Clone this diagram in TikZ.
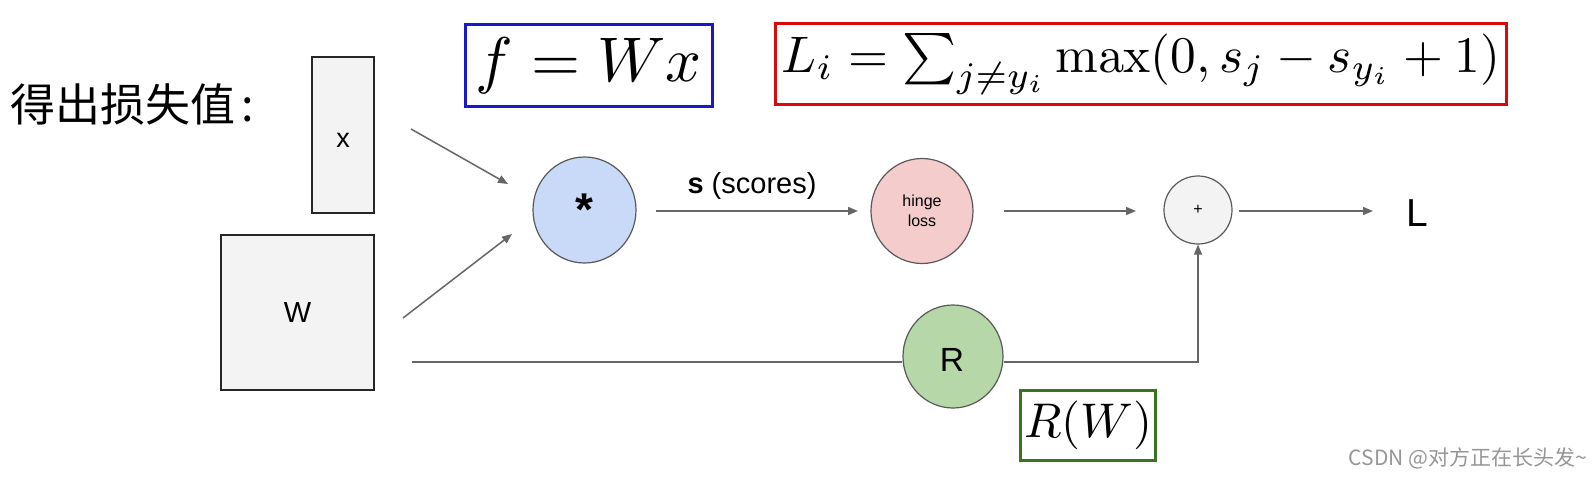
\documentclass[tikz,border=0pt]{standalone}
\usepackage[no-math]{fontspec}
\setmainfont{Liberation Sans}
\newfontfamily\cjk{Noto Sans CJK SC}
\usepackage{graphicx}
\usetikzlibrary{shapes.geometric,arrows.meta}
\definecolor{boxfill}{RGB}{243,243,243}
\definecolor{opblue}{RGB}{201,218,248}
\definecolor{oppink}{RGB}{244,204,204}
\definecolor{opgreen}{RGB}{182,215,168}
\definecolor{fblue}{RGB}{25,25,200}
\definecolor{fred}{RGB}{218,10,10}
\definecolor{fgreen}{RGB}{56,118,29}
\definecolor{conncol}{RGB}{102,102,102}
\definecolor{wmcol}{RGB}{150,150,150}
\begin{document}
\begin{tikzpicture}[x=0.5pt,y=-0.5pt,
  blk/.style={draw=black!85, line width=0.75pt, fill=boxfill, inner sep=0},
  op/.style={ellipse, draw=black!65, line width=0.6pt, inner sep=0},
  conn/.style={draw=conncol, line width=0.75pt},
  arr/.style={conn, -{Triangle[length=5pt,width=4pt]}},
  fbox/.style={line width=1.5pt, fill=white, inner sep=0}]
\fill[white] (0,0) rectangle (1592,477);
\useasboundingbox (0,0) rectangle (1592,477);

% title
\node[anchor=west, inner sep=0, font=\cjk\fontsize{22.5}{27}\selectfont] (title) at (10,104) {得出损失值\hspace{3pt}:};

% input boxes
\node[blk, minimum width=31pt, minimum height=78pt] (xb) at (343,135) {};
\node[inner sep=0, font=\fontsize{13.5}{16}\selectfont] (xl) at (343,140) {x};
\node[blk, minimum width=76.5pt, minimum height=77.5pt, font=\fontsize{14.5}{17}\selectfont] (wb) at (297.5,312.5) {W};

% operation nodes
\node[op, fill=opblue, minimum width=51.5pt, minimum height=53pt] (mul) at (584.5,210) {};
\node[inner sep=0, font=\bfseries\fontsize{23}{27}\selectfont] (star) at (584,210) {*};
\node[op, fill=oppink, minimum width=51pt, minimum height=52.5pt, align=center, font=\fontsize{8}{10}\selectfont] (hinge) at (922,211) {hinge\\loss};
\node[op, fill=boxfill, minimum width=34pt, minimum height=34pt, font=\fontsize{8}{10}\selectfont] (plus) at (1198,210) {+};
\node[inner sep=0, font=\fontsize{19.5}{23}\selectfont] (L) at (1417,213) {L};
\node[op, fill=opgreen, minimum width=50pt, minimum height=51.5pt] (R) at (953,356.5) {};
\node[inner sep=0, font=\fontsize{16.75}{20}\selectfont] (Rl) at (952,360) {R};

% label
\node[inner sep=0, font=\fontsize{14.5}{17}\selectfont] (scores) at (752,186) {\textbf{s} (scores)};

% connector end points
\coordinate (xa) at (411,129);
\coordinate (xe) at (508,184);
\coordinate (wa) at (403,318);
\coordinate (we) at (512,234);
\coordinate (s1) at (656,211);
\coordinate (s2) at (858,211);
\coordinate (h1) at (1004,211);
\coordinate (h2) at (1136,211);
\coordinate (p1) at (1239,211);
\coordinate (p2) at (1373,211);
\coordinate (wr) at (412,362);

\draw[arr] (xa) -- (xe);
\draw[arr] (wa) -- (we);
\draw[arr] (s1) -- (s2);
\draw[arr] (h1) -- (h2);
\draw[arr] (p1) -- (p2);
\draw[conn] (wr) -- (wr -| R.west);
\draw[arr] (R.east |- wr) -| (plus.south);

% formula boxes
\node[draw=fblue, fbox, minimum width=123.5pt, minimum height=41pt] (fb) at (589,65.5) {\resizebox{113pt}{!}{$f=Wx$}};
\node[draw=fred, fbox, minimum width=365.5pt, minimum height=40.5pt] (lb) at (1141,64) {\resizebox{359pt}{!}{$L_i = \sum_{j\neq y_i}\max(0, s_j - s_{y_i} + 1)$}};
\node[draw=fgreen, fbox, minimum width=67.5pt, minimum height=35pt] (rb) at (1088,425.5) {\resizebox{64pt}{!}{$R(W)$}};

% watermark
\node[inner sep=0, text=wmcol, font=\cjk\fontsize{10.5}{12}\selectfont] (wm) at (1468,458) {CSDN @对方正在长头发\textasciitilde};
\end{tikzpicture}
\end{document}
